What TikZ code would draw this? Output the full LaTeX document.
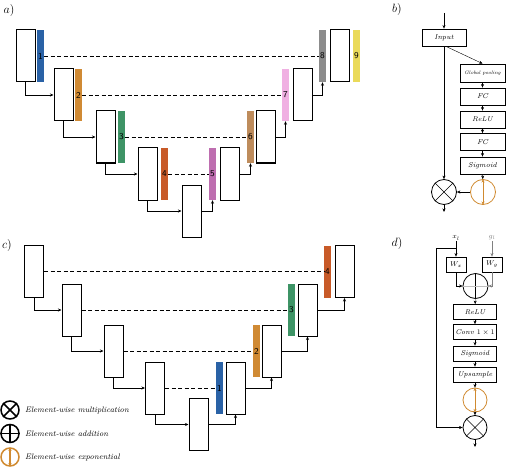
\documentclass[tikz,border=0pt]{standalone}
\usetikzlibrary{arrows.meta}
\definecolor{barblue}{RGB}{42,98,166}
\definecolor{barorange}{RGB}{208,138,52}
\definecolor{bargreen}{RGB}{62,148,102}
\definecolor{barred}{RGB}{200,90,40}
\definecolor{barpurple}{RGB}{190,110,176}
\definecolor{bartan}{RGB}{190,140,92}
\definecolor{barpink}{RGB}{240,176,226}
\definecolor{bargray}{RGB}{140,140,140}
\definecolor{baryellow}{RGB}{234,218,90}
\definecolor{expcol}{RGB}{208,138,48}
\begin{document}
\begin{tikzpicture}[x=1pt,y=-1pt,>={Stealth[length=3.5pt,width=3pt]},
blk/.style={draw,line width=1pt,minimum width=19pt,minimum height=52pt,inner sep=0pt},
bar/.style={fill=#1,minimum width=7pt,minimum height=52pt,inner sep=0pt,font=\sffamily\fontsize{9}{9}\selectfont},
skip/.style={line width=.9pt,dash pattern=on 4pt off 2.5pt},
op/.style={draw,line width=.8pt,minimum width=44pt,minimum height=17pt,inner sep=0pt,font=\itshape\fontsize{7}{7}\selectfont},
opc/.style={draw,circle,minimum size=25pt,inner sep=0pt,line width=.8pt},
legtxt/.style={anchor=west,inner sep=0pt,font=\itshape\fontsize{8}{8}\selectfont},
lab/.style={font=\fontsize{13}{13}\selectfont}]
\useasboundingbox (0,0) rectangle (514,468);
% a)
\node[lab] (la) at (9,11) {$a)$};
\foreach \n/\x/\y in {1/25.5/56,2/63.5/95,3/105.5/137,4/147.5/174,5/191.5/211}
\node[blk] (e\n) at (\x,\y) {};
\foreach \n/\x/\y in {5/229.5/174,6/265.5/137,7/302.5/95,8/339.5/56}
\node[blk] (d\n) at (\x,\y) {};
\foreach \n/\x/\y/\c in {1/40.5/56/barblue,2/78.5/95/barorange,3/121.5/137/bargreen,4/164.5/174/barred,5/212.5/174/barpurple,6/250.5/137/bartan,7/285.5/95/barpink,8/322.5/56/bargray,9/356.5/56/baryellow}
\node[bar=\c] (b\n) at (\x,\y) {\n};
\foreach \i/\j in {1/8,2/7,3/6,4/5}
\draw[skip] (b\i.east) -- (b\j.west);
\foreach \i/\j in {1/2,2/3,3/4,4/5}
\draw[->,line width=.7pt] (e\i.south) |- (e\j.west);
\draw[->,line width=.7pt] (e5.east) -| (b5.south);
\foreach \i/\j in {5/6,6/7,7/8}
\draw[->,line width=.7pt] (d\i.east) -| (b\j.south);
% c)
\node[lab] (lc) at (7,245) {$c)$};
\foreach \n/\x/\y in {1/34/271.5,2/71.5/310,3/113.5/351,4/155/388,5/198.5/424.5}
\node[blk] (ce\n) at (\x,\y) {};
\foreach \n/\x/\y in {1/235.5/388,2/271.5/351,3/307.5/310,4/344.5/271.5}
\node[blk] (cd\n) at (\x,\y) {};
\foreach \n/\x/\y/\c in {1/219.5/388/barblue,2/256.5/351/barorange,3/291.5/310/bargreen,4/327.5/271.5/barred}
\node[bar=\c] (cb\n) at (\x,\y) {\n};
\foreach \i/\j in {1/4,2/3,3/2,4/1}
\draw[skip,line width=.7pt] (ce\i.east) -- (cb\j.west);
\foreach \i/\j in {1/2,2/3,3/4,4/5}
\draw[->,line width=.7pt] (ce\i.south) |- (ce\j.west);
\draw[->,line width=.7pt] (ce5.east) -| (cd1.south);
\foreach \i/\j in {1/2,2/3,3/4}
\draw[->,line width=.7pt] (cd\i.east) -| (cd\j.south);
% legend
\node[opc,line width=1.5pt,minimum size=18pt] (lm) at (10,410) {};
\draw[line width=1.5pt] (lm.north west) -- (lm.south east) (lm.north east) -- (lm.south west);
\node[legtxt] (tm) at (25,410) {Element-wise multiplication};
\node[opc,line width=1.5pt,minimum size=18pt] (lp) at (10,433.5) {};
\draw[line width=1.5pt] (lp.north) -- (lp.south) (lp.west) -- (lp.east);
\node[legtxt] (tp) at (25,433.5) {Element-wise addition};
\node[opc,line width=1.5pt,minimum size=18pt,expcol] (lx) at (10,457) {};
\draw[<->,line width=1.2pt,expcol] (lx.north) -- (lx.south);
\node[legtxt] (tx) at (25,457) {Element-wise exponential};
% b)
\node[lab] (lb) at (397,10) {$b)$};
\coordinate (bin) at (444,13);
\node[op] (inp) at (444,37.5) {Input};
\node[op,minimum width=45pt,minimum height=18pt,font=\itshape\fontsize{5}{5}\selectfont] (gp) at (482.5,73) {Global pooling};
\node[op,minimum width=45pt] (fc1) at (482.5,96.5) {FC};
\node[op,minimum width=45pt] (relu) at (482.5,119.5) {ReLU};
\node[op,minimum width=45pt] (fc2) at (482.5,142) {FC};
\node[op,minimum width=45pt] (sig) at (482.5,165.5) {Sigmoid};
\node[opc] (mul) at (444,192) {};
\node[opc,expcol] (ex) at (483,192) {};
\coordinate (bout) at (444,212);
\draw (mul.north west) -- (mul.south east) (mul.north east) -- (mul.south west);
\draw[<->,expcol] (ex.north) -- (ex.south);
\draw[->] (bin) -- (inp);
\draw[->] (inp) -- (mul);
\draw[->] ([xshift=2pt]inp.south) -- (gp.north);
\draw[->] (gp) -- (fc1);
\draw[->] (fc1) -- (relu);
\draw[->] (relu) -- (fc2);
\draw[->] (fc2) -- (sig);
\draw[->] (sig) -- (ex);
\draw[->] (ex) -- (mul);
\draw[->] (mul) -- (bout);
% d)
\node[lab] (ld) at (397,243) {$d)$};
\node[font=\fontsize{7}{7}\selectfont,inner sep=1pt] (xl) at (456,238) {$x_l$};
\node[font=\fontsize{7}{7}\selectfont,inner sep=1pt,gray] (gl) at (492,238) {$g_l$};
\node[op,minimum width=20pt,minimum height=15pt] (wx) at (456,264.5) {$W_x$};
\node[op,minimum width=20pt,minimum height=15pt] (wg) at (492,264.5) {$W_g$};
\node[opc] (add) at (475.5,286) {};
\draw (add.north) -- (add.south);
\draw[gray!50] (add.west) -- (add.east);
\node[op,minimum width=43pt,minimum height=15pt] (relu2) at (475,312) {ReLU};
\node[op,minimum width=43pt,minimum height=15pt] (conv) at (475,332) {Conv $1\times1$};
\node[op,minimum width=43pt,minimum height=15pt] (sig2) at (475,353.5) {Sigmoid};
\node[op,minimum width=43pt,minimum height=15pt] (ups) at (475,374.5) {Upsample};
\node[opc,expcol,minimum size=24pt] (ex2) at (475,400) {};
\draw[<->,expcol] (ex2.north) -- (ex2.south);
\node[opc,minimum size=24pt] (mul2) at (475,427.5) {};
\draw (mul2.north west) -- (mul2.south east) (mul2.north east) -- (mul2.south west);
\coordinate (dout) at (475,447);
\coordinate (sk) at (456,248);
\draw[->] (xl) -- (wx);
\draw[->,gray] (gl) -- (wg);
\draw[->] (wx.south) |- (add.west);
\draw[->,gray] (wg.south) |- (add.east);
\draw[->] (add) -- (relu2);
\draw[->] (relu2) -- (conv);
\draw[->] (conv) -- (sig2);
\draw[->] (sig2) -- (ups);
\draw[->] (ups) -- (ex2);
\draw[->] (ex2) -- (mul2);
\draw[->] (mul2) -- (dout);
\draw[->] (sk) -- ++(-20,0) |- (mul2.west);
\end{tikzpicture}
\end{document}
